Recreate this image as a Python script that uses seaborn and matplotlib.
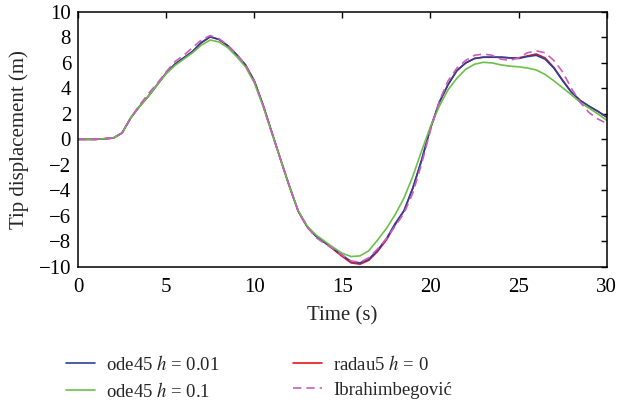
import numpy as np
import pandas as pd
import matplotlib
matplotlib.use("Agg")
import matplotlib.pyplot as plt
import seaborn as sns

time_s = [0, 0.5, 1, 1.5, 2, 2.5, 3, 3.5, 4, 4.5, 5, 5.5, 6, 6.5, 7, 7.5, 8, 8.5, 9, 9.5,
          10, 10.5, 11, 11.5, 12, 12.5, 13, 13.5, 14, 14.5, 15, 15.5, 16, 16.5, 17, 17.5,
          18, 18.5, 19, 19.5, 20, 20.5, 21, 21.5, 22, 22.5, 23, 23.5, 24, 24.5, 25, 25.5,
          26, 26.5, 27, 27.5, 28, 28.5, 29, 29.5, 30]

ode45_001 = [0, 0, 0, 0.05, 0.1, 0.5, 1.7, 2.6, 3.4, 4.3, 5.2, 5.9, 6.4, 6.9, 7.6, 8.05, 7.85, 7.35, 6.65, 5.85,
             4.6, 2.7, 0.55, -1.6, -3.7, -5.65, -6.85, -7.6, -8.1, -8.6, -9.1, -9.6, -9.7, -9.4, -8.7, -7.8,
             -6.6, -5.6, -3.8, -1.6, 0.9, 2.9, 4.3, 5.4, 6.0, 6.35, 6.45, 6.45, 6.45, 6.4, 6.35, 6.5,
             6.6, 6.3, 5.6, 4.6, 3.7, 3.05, 2.6, 2.2, 1.75]

ode45_01 = [0, 0, 0, 0.05, 0.1, 0.5, 1.7, 2.6, 3.4, 4.3, 5.15, 5.8, 6.3, 6.8, 7.4, 7.8, 7.65, 7.2, 6.5, 5.7,
            4.45, 2.6, 0.5, -1.6, -3.7, -5.6, -6.8, -7.5, -8.0, -8.5, -8.95, -9.2, -9.15, -8.75, -7.9, -7.0,
            -5.9, -4.6, -2.9, -0.9, 1.0, 2.6, 3.9, 4.8, 5.5, 5.9, 6.05, 6.0, 5.85, 5.75, 5.7, 5.6,
            5.45, 5.1, 4.6, 4.05, 3.5, 2.9, 2.45, 2.0, 1.5]

radau5_0 = [0, 0, 0, 0.05, 0.1, 0.5, 1.7, 2.6, 3.4, 4.3, 5.2, 5.9, 6.4, 6.9, 7.6, 8.05, 7.85, 7.35, 6.65, 5.85,
            4.6, 2.7, 0.55, -1.6, -3.7, -5.65, -6.85, -7.6, -8.1, -8.65, -9.2, -9.7, -9.8, -9.5, -8.8, -7.9,
            -6.7, -5.6, -3.85, -1.65, 0.85, 2.9, 4.3, 5.4, 6.0, 6.35, 6.45, 6.45, 6.45, 6.4, 6.4, 6.55,
            6.7, 6.4, 5.65, 4.65, 3.7, 3.05, 2.6, 2.2, 1.75]

ibrahimbegovic = [0, 0, 0, 0.05, 0.1, 0.5, 1.7, 2.7, 3.6, 4.4, 5.3, 6.1, 6.6, 7.2, 7.8, 8.15, 7.9, 7.4, 6.7, 5.85,
                  4.6, 2.7, 0.5, -1.6, -3.7, -5.7, -6.9, -7.7, -8.2, -8.6, -9.1, -9.55, -9.65, -9.3, -8.6, -7.8,
                  -6.8, -5.8, -4.2, -1.9, 0.7, 3.0, 4.6, 5.6, 6.2, 6.6, 6.7, 6.6, 6.3, 6.2, 6.4, 6.8,
                  6.95, 6.8, 6.2, 5.3, 4.0, 2.9, 2.1, 1.6, 1.25]

series_labels = ["ode45 $h$ = 0.01", "ode45 $h$ = 0.1", "radau5 $h$ = 0", "Ibrahimbegović"]
x_ticks = [0, 5, 10, 15, 20, 25, 30]
y_ticks = [-10, -8, -6, -4, -2, 0, 2, 4, 6, 8, 10]

sns.set_style("white")
plt.rcParams["font.family"] = ["Liberation Serif", "DejaVu Serif"]
plt.rcParams["mathtext.fontset"] = "stix"
plt.rcParams["axes.unicode_minus"] = True

FS = 15
LFS = 13.5

fig = plt.figure(figsize=(6.17, 4.07), dpi=100)
ax = fig.add_axes([0.1264, 0.3447, 0.8569, 0.6258])

styles = [
    (ode45_001, "#2b3f9c", "-"),
    (ode45_01, "#6cc04a", "-"),
    (radau5_0, "#e8141c", "-"),
    (ibrahimbegovic, "#c660b8", "--"),
]
draw_order = [2, 0, 1, 3]
lines = {}
for i in draw_order:
    vals, col, ls = styles[i]
    df = pd.DataFrame({"t": time_s, "v": vals})
    sns.lineplot(data=df, x="t", y="v", ax=ax, color=col, linewidth=1.2,
                 linestyle=ls, label=series_labels[i], legend=False)
    lines[i] = ax.lines[-1]
lines[3].set_dashes([5, 3])

ax.set_xlim(0, 30)
ax.set_ylim(-10, 10)
ax.set_xticks(x_ticks)
ax.set_yticks(y_ticks)
ax.tick_params(direction="in", length=4, width=1, top=True, right=True,
               labelsize=FS, colors="black", pad=5,
               labeltop=False, labelright=False)
ax.tick_params(axis="x", pad=8)
for s in ax.spines.values():
    s.set_color("black")
    s.set_linewidth(1.1)
ax.set_xlabel("Time (s)", fontsize=FS, labelpad=7)
ax.set_ylabel("Tip displacement (m)", fontsize=FS, labelpad=7)

handles = [lines[i] for i in range(4)]
fig.legend(handles, series_labels, loc="upper left", bbox_to_anchor=(0.107, 0.128),
           ncol=2, frameon=False, fontsize=LFS, handlelength=1.55, handletextpad=0.6,
           columnspacing=3.9, labelspacing=0.42, borderaxespad=0, borderpad=0)

fig.savefig("out.png", dpi=100)
